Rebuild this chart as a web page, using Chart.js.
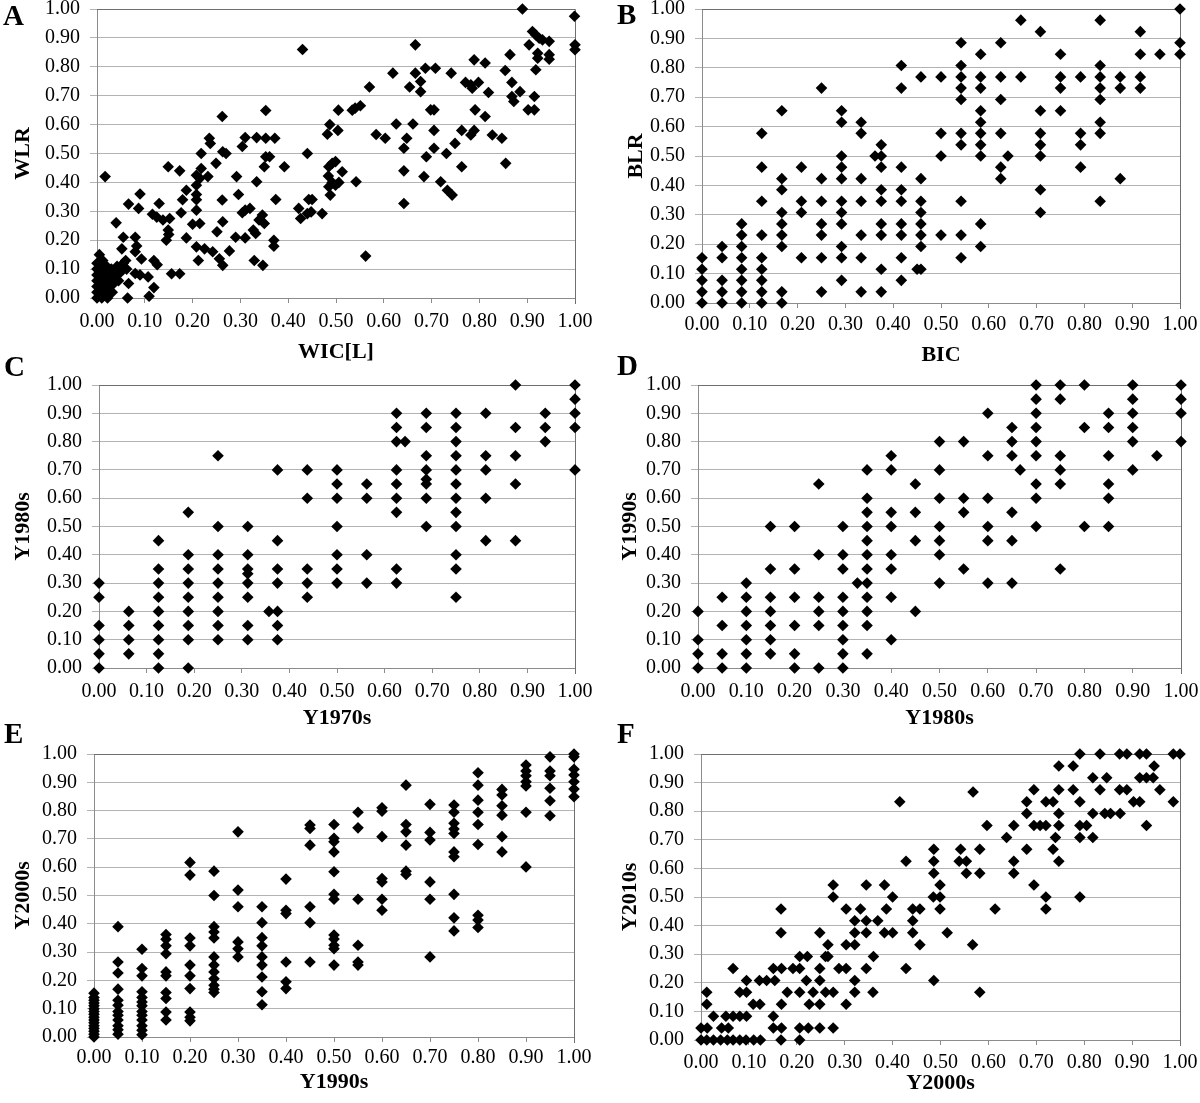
<!DOCTYPE html>
<html><head><meta charset="utf-8">
<script src="https://cdn.jsdelivr.net/npm/chart.js@4.4.1/dist/chart.umd.min.js"></script>
<style>
html,body{margin:0;padding:0;background:#fff;}
#wrap{position:relative;width:1200px;height:1103px;overflow:hidden;background:#fff;}
canvas{position:absolute;}
</style></head><body><div id="wrap"></div>
<script>
// ---------- DATA ----------
// Panel A: WIC[L] (x) vs WLR (y), pairs
const pointsA = [
[0,0],[0,0.02],[0,0.04],[0,0.06],[0,0.08],[0,0.10],[0,0.12],[0.005,0.15],[0.005,0.01],[0.008,0.05],
[0.01,0],[0.01,0.03],[0.01,0.07],[0.01,0.10],[0.012,0.13],[0.015,0.02],[0.018,0.05],[0.02,0.08],[0.02,0.11],
[0.022,0],[0.025,0.04],[0.028,0.07],[0.03,0.10],[0.032,0.02],[0.035,0.05],[0.04,0.08],[0.042,0.11],[0.045,0.06],
[0.05,0.09],[0.055,0.12],
[0.017,0.42],[0.43,0.86],[0.04,0.26],[0.066,0.325],[0.09,0.36],[0.087,0.31],[0.055,0.21],[0.08,0.21],[0.083,0.18],
[0.08,0.16],[0.093,0.135],[0.052,0.17],[0.06,0.13],[0.062,0.10],[0.066,0.05],[0.064,0],[0.08,0.085],[0.09,0.08],
[0.107,0.073],[0.109,0.006],[0.119,0.036],[0.119,0.13],[0.126,0.115],[0.116,0.29],[0.125,0.28],[0.13,0.327],
[0.138,0.27],[0.149,0.454],[0.152,0.275],[0.149,0.235],[0.145,0.20],[0.15,0.22],[0.156,0.084],[0.173,0.084],
[0.173,0.44],[0.176,0.295],[0.179,0.34],[0.187,0.373],[0.187,0.208],[0.20,0.255],[0.208,0.34],[0.208,0.304],
[0.208,0.358],[0.208,0.39],[0.208,0.425],[0.215,0.258],[0.218,0.448],[0.215,0.414],[0.208,0.177],[0.212,0.13],
[0.218,0.50],[0.225,0.17],[0.232,0.42],[0.235,0.553],[0.237,0.535],[0.242,0.16],[0.249,0.466],[0.251,0.229],
[0.256,0.136],[0.262,0.628],[0.263,0.506],[0.27,0.50],[0.262,0.339],[0.263,0.264],[0.263,0.113],[0.277,0.163],
[0.292,0.42],[0.296,0.358],[0.29,0.21],[0.304,0.524],[0.31,0.555],[0.304,0.295],[0.31,0.304],[0.31,0.208],
[0.32,0.31],[0.334,0.402],[0.334,0.555],[0.327,0.235],[0.332,0.223],[0.329,0.13],[0.339,0.27],[0.346,0.287],
[0.35,0.258],[0.347,0.113],[0.353,0.553],[0.353,0.649],[0.35,0.454],[0.353,0.489],[0.361,0.489],[0.372,0.553],
[0.37,0.20],[0.37,0.179],[0.374,0.341],[0.392,0.454],[0.422,0.31],[0.426,0.275],[0.44,0.50],[0.443,0.341],
[0.45,0.341],[0.44,0.292],[0.448,0.298],[0.471,0.292],[0.487,0.60],[0.482,0.567],[0.484,0.422],[0.485,0.454],
[0.485,0.385],[0.488,0.356],[0.504,0.58],[0.505,0.65],[0.534,0.65],[0.54,0.657],[0.551,0.665],[0.57,0.73],
[0.492,0.466],[0.499,0.472],[0.492,0.40],[0.506,0.40],[0.513,0.437],[0.499,0.39],[0.542,0.402],[0.562,0.145],
[0.584,0.566],[0.603,0.553],[0.619,0.778],[0.626,0.602],[0.648,0.553],[0.642,0.518],[0.642,0.44],[0.642,0.327],
[0.654,0.73],[0.661,0.602],[0.666,0.876],[0.666,0.778],[0.677,0.749],[0.677,0.714],[0.687,0.795],[0.708,0.795],
[0.698,0.651],[0.705,0.651],[0.705,0.58],[0.705,0.518],[0.689,0.489],[0.684,0.42],[0.719,0.402],[0.731,0.50],
[0.733,0.373],[0.743,0.356],[0.741,0.778],[0.749,0.535],[0.763,0.58],[0.763,0.454],[0.771,0.746],[0.782,0.738],
[0.785,0.726],[0.789,0.824],[0.798,0.746],[0.791,0.651],[0.782,0.564],[0.789,0.58],[0.812,0.813],[0.819,0.711],
[0.812,0.628],[0.827,0.564],[0.847,0.553],[0.855,0.466],[0.854,0.787],[0.864,0.842],[0.868,0.746],[0.868,0.697],
[0.872,0.68],[0.885,0.714],[0.89,1.00],[0.904,0.876],[0.911,0.922],[0.918,0.91],[0.925,0.899],[0.932,0.893],
[0.946,0.888],[0.922,0.847],[0.922,0.83],[0.918,0.79],[0.946,0.842],[0.946,0.826],[0.915,0.697],[0.902,0.651],
[0.915,0.651],[0.999,0.975],[1.0,0.876],[1.0,0.859]
];

// Panel B: BIC (x) columns with BLR (y) values
const columnsB = [
[0,[0,0.038,0.077,0.115,0.154]],
[0.042,[0,0.038,0.077,0.154,0.192]],
[0.083,[0,0.038,0.077,0.115,0.154,0.192,0.231,0.269]],
[0.125,[0,0.038,0.077,0.115,0.154,0.231,0.346,0.462,0.577]],
[0.167,[0,0.038,0.192,0.231,0.269,0.308,0.385,0.423,0.654]],
[0.208,[0.154,0.308,0.346,0.462]],
[0.25,[0.038,0.154,0.231,0.269,0.346,0.423,0.731]],
[0.292,[0.077,0.154,0.192,0.269,0.308,0.346,0.423,0.462,0.5,0.615,0.654]],
[0.333,[0.038,0.154,0.231,0.346,0.423,0.577,0.615]],
[0.362,[0.5]],
[0.375,[0.038,0.115,0.231,0.269,0.346,0.385,0.462,0.5,0.538]],
[0.417,[0.077,0.154,0.231,0.269,0.346,0.385,0.462,0.731,0.808]],
[0.45,[0.115]],
[0.458,[0.115,0.192,0.231,0.269,0.308,0.346,0.423,0.769]],
[0.5,[0.231,0.5,0.577,0.769]],
[0.542,[0.154,0.231,0.346,0.538,0.577,0.692,0.731,0.769,0.808,0.885]],
[0.583,[0.192,0.269,0.5,0.538,0.577,0.615,0.654,0.731,0.769,0.846]],
[0.625,[0.423,0.462,0.577,0.692,0.769,0.885]],
[0.64,[0.5]],
[0.667,[0.769,0.962]],
[0.708,[0.308,0.385,0.5,0.538,0.577,0.654,0.923]],
[0.75,[0.654,0.731,0.769,0.846]],
[0.792,[0.462,0.538,0.577,0.769]],
[0.833,[0.346,0.577,0.615,0.692,0.731,0.769,0.808,0.962]],
[0.875,[0.423,0.731,0.769]],
[0.917,[0.731,0.769,0.846,0.923]],
[0.958,[0.846]],
[1,[0.846,0.885,1]]
];

// Panel C: Y1970s (x) columns with Y1980s (y) values
const columnsC = [
[0,[0.3,0.25,0.15,0.1,0.05,0]],
[0.0625,[0.2,0.15,0.1,0.05]],
[0.125,[0.45,0.35,0.3,0.25,0.2,0.15,0.1,0.05,0]],
[0.1875,[0.55,0.4,0.35,0.3,0.25,0.2,0.15,0.1,0]],
[0.25,[0.75,0.5,0.4,0.35,0.3,0.25,0.2,0.15,0.1]],
[0.3125,[0.5,0.4,0.35,0.333,0.3,0.25,0.15,0.1]],
[0.357,[0.2]],
[0.375,[0.7,0.45,0.35,0.3,0.2,0.15,0.1]],
[0.4375,[0.7,0.6,0.35,0.3,0.25]],
[0.5,[0.7,0.65,0.6,0.5,0.4,0.35,0.3]],
[0.5625,[0.65,0.6,0.4,0.3]],
[0.625,[0.9,0.85,0.8,0.7,0.65,0.6,0.55,0.35,0.3]],
[0.643,[0.8]],
[0.6875,[0.9,0.85,0.75,0.7,0.667,0.65,0.6,0.5]],
[0.75,[0.9,0.85,0.8,0.75,0.7,0.65,0.6,0.55,0.5,0.4,0.35,0.25]],
[0.8125,[0.9,0.75,0.7,0.6,0.45]],
[0.875,[1,0.85,0.75,0.65,0.45]],
[0.9375,[0.9,0.85,0.8]],
[1,[1,0.95,0.9,0.85,0.7]]
];

// Panel D: Y1980s (x) columns with Y1990s (y) values
const columnsD = [
[0,[0.2,0.1,0.05,0]],
[0.05,[0.25,0.15,0.05,0]],
[0.1,[0.3,0.25,0.2,0.15,0.1,0.05,0]],
[0.15,[0.5,0.35,0.25,0.2,0.15,0.1,0.05]],
[0.2,[0.5,0.35,0.25,0.15,0.05,0]],
[0.25,[0.65,0.4,0.25,0.2,0.15,0]],
[0.3,[0.5,0.4,0.35,0.25,0.2,0.15,0.1,0.05,0]],
[0.33,[0.3]],
[0.35,[0.7,0.6,0.55,0.5,0.45,0.4,0.35,0.3,0.25,0.2,0.15,0.05]],
[0.4,[0.75,0.7,0.55,0.5,0.4,0.35,0.25,0.1]],
[0.45,[0.65,0.55,0.45,0.2]],
[0.5,[0.8,0.7,0.6,0.5,0.45,0.4,0.3]],
[0.55,[0.8,0.6,0.55,0.35]],
[0.6,[0.9,0.75,0.6,0.5,0.45,0.3]],
[0.65,[0.85,0.8,0.75,0.55,0.45,0.3]],
[0.667,[0.7]],
[0.7,[1,0.95,0.9,0.85,0.8,0.75,0.65,0.6,0.5]],
[0.75,[1,0.95,0.75,0.7,0.65,0.35]],
[0.8,[1,0.85,0.5]],
[0.85,[0.9,0.85,0.75,0.65,0.6,0.5]],
[0.9,[1,0.95,0.9,0.85,0.8,0.7]],
[0.95,[0.75]],
[1,[1,0.95,0.9,0.8]]
];

// Panel E: Y1990s (x) columns with Y2000s (y) values
const columnsE = [
[0,[0,0.01,0.02,0.03,0.04,0.05,0.06,0.07,0.08,0.09,0.10,0.11,0.12,0.13,0.14,0.155]],
[0.05,[0.39,0.265,0.226,0.169,0.13,0.112,0.09,0.077,0.06,0.04,0.026,0.01]],
[0.1,[0.31,0.242,0.216,0.16,0.14,0.124,0.11,0.09,0.077,0.06,0.04,0.024,0.008]],
[0.15,[0.362,0.345,0.322,0.294,0.23,0.216,0.157,0.136,0.088,0.06]],
[0.2,[0.617,0.572,0.35,0.322,0.254,0.216,0.171,0.088,0.07,0.057]],
[0.25,[0.586,0.5,0.39,0.371,0.35,0.283,0.254,0.23,0.206,0.183,0.169,0.157]],
[0.3,[0.725,0.519,0.46,0.336,0.312,0.283]],
[0.35,[0.46,0.404,0.351,0.322,0.283,0.254,0.212,0.16,0.114]],
[0.4,[0.558,0.448,0.436,0.265,0.195,0.171]],
[0.45,[0.749,0.737,0.678,0.46,0.404,0.265]],
[0.5,[0.751,0.702,0.69,0.654,0.584,0.504,0.487,0.36,0.346,0.324,0.312,0.254]],
[0.55,[0.794,0.739,0.487,0.324,0.265,0.254]],
[0.6,[0.81,0.798,0.708,0.56,0.548,0.487,0.448]],
[0.65,[0.89,0.751,0.725,0.678,0.586,0.574]],
[0.7,[0.822,0.723,0.696,0.548,0.487,0.283]],
[0.75,[0.82,0.794,0.755,0.735,0.719,0.654,0.637,0.504,0.421,0.375]],
[0.8,[0.934,0.89,0.837,0.794,0.751,0.68,0.43,0.413,0.387]],
[0.85,[0.875,0.855,0.817,0.784,0.708,0.654]],
[0.9,[0.961,0.94,0.923,0.902,0.887,0.794,0.601]],
[0.95,[0.99,0.94,0.923,0.879,0.835,0.782]],
[1,[1,0.99,0.946,0.926,0.902,0.876,0.849]]
];

// Panel F: Y2000s (x) vs Y2010s (y), pairs
const pointsF = [
[0,0],[0.012,0],[0.026,0],[0.041,0],[0.055,0],[0.067,0],[0.081,0],[0.094,0],[0.11,0],[0.124,0],[0.167,0],[0.206,0],
[0,0.042],[0.013,0.042],[0.043,0.042],[0.057,0.042],[0.151,0.042],[0.168,0.042],[0.206,0.042],[0.224,0.042],[0.248,0.042],[0.276,0.042],
[0.026,0.083],[0.052,0.083],[0.067,0.083],[0.081,0.083],[0.095,0.083],[0.151,0.083],
[0.012,0.125],[0.109,0.125],[0.123,0.125],[0.168,0.125],[0.226,0.125],[0.248,0.125],[0.303,0.125],
[0.012,0.167],[0.081,0.167],[0.095,0.167],[0.18,0.167],[0.206,0.167],[0.234,0.167],[0.26,0.167],[0.276,0.167],[0.321,0.167],[0.359,0.167],
[0.095,0.208],[0.122,0.208],[0.137,0.208],[0.154,0.208],[0.22,0.208],[0.248,0.208],[0.321,0.208],
[0.067,0.25],[0.151,0.25],[0.168,0.25],[0.192,0.25],[0.206,0.25],[0.248,0.25],[0.288,0.25],[0.303,0.25],[0.345,0.25],[0.428,0.25],
[0.206,0.292],[0.222,0.292],[0.26,0.292],[0.265,0.292],[0.36,0.292],
[0.265,0.333],[0.303,0.333],[0.321,0.333],[0.457,0.333],
[0.167,0.375],[0.248,0.375],[0.321,0.375],[0.345,0.375],[0.383,0.375],[0.4,0.375],[0.442,0.375],
[0.321,0.417],[0.345,0.417],[0.369,0.417],[0.442,0.417],
[0.167,0.458],[0.303,0.458],[0.333,0.458],[0.387,0.458],[0.442,0.458],[0.457,0.458],
[0.276,0.5],[0.4,0.5],[0.276,0.542],[0.345,0.542],[0.383,0.542],[0.428,0.625],[0.415,0.833],
[0.486,0.667],[0.486,0.625],[0.486,0.583],[0.499,0.542],[0.485,0.5],[0.499,0.5],[0.499,0.458],[0.514,0.375],[0.486,0.208],
[0.542,0.667],[0.539,0.625],[0.554,0.625],[0.554,0.583],[0.568,0.867],[0.567,0.333],[0.582,0.667],[0.582,0.583],[0.582,0.167],
[0.597,0.75],[0.614,0.458],[0.638,0.708],[0.653,0.75],[0.653,0.625],[0.653,0.583],
[0.68,0.833],[0.68,0.792],[0.68,0.667],[0.695,0.875],[0.695,0.75],[0.695,0.542],[0.708,0.75],
[0.72,0.833],[0.72,0.75],[0.72,0.5],[0.72,0.458],[0.735,0.833],[0.735,0.667],
[0.747,0.958],[0.747,0.875],[0.747,0.792],[0.747,0.75],[0.74,0.708],[0.747,0.625],
[0.777,0.958],[0.777,0.875],[0.791,1],[0.791,0.833],[0.791,0.75],[0.805,0.75],[0.791,0.708],[0.791,0.5],
[0.818,0.917],[0.818,0.792],[0.818,0.708],[0.833,1],[0.833,0.875],[0.847,0.917],[0.843,0.792],[0.855,0.792],
[0.874,1],[0.889,1],[0.874,0.875],[0.889,0.875],[0.875,0.792],[0.903,0.833],[0.916,0.833],
[0.916,1],[0.93,1],[0.916,0.917],[0.93,0.917],[0.944,0.917],[0.946,0.958],[0.93,0.75],[0.958,0.875],[0.986,0.833],[0.986,1],[1,1]
];

const panelLetters = ['A','B','C','D','E','F'];
const xTitles = ['WIC[L]','BIC','Y1970s','Y1980s','Y1990s','Y2000s'];
const yTitles = ['WLR','BLR','Y1980s','Y1990s','Y2000s','Y2010s'];

// ---------- helpers ----------
const fromPairs = arr => arr.map(p => ({x:p[0], y:p[1]}));
const fromColumns = cols => cols.flatMap(c => c[1].map(v => ({x:c[0], y:v})));
const datasets = [fromPairs(pointsA), fromColumns(columnsB), fromColumns(columnsC),
                  fromColumns(columnsD), fromColumns(columnsE), fromPairs(pointsF)];

const SERIF = '"Liberation Serif","Times New Roman",serif';

// layout: canvas box [left, top, w, h], plot area [left, top, right, bottom] (absolute px)
const layoutInfo = [
 {box:[0,0,600,370],   plot:[97,9,575,298],    yTitleX:23, xTitleY:352,  xPad:7, letter:[3,25]},
 {box:[600,0,600,370], plot:[702,9,1180,303],  yTitleX:36, xTitleY:355,  xPad:5, letter:[617,24]},
 {box:[0,338,600,395], plot:[99,385,575,668],  yTitleX:23, xTitleY:718,  xPad:7, letter:[4,376]},
 {box:[600,338,600,395],plot:[698,385,1181,668],yTitleX:30, xTitleY:718, xPad:7, letter:[617,375]},
 {box:[0,705,600,398], plot:[94,754,574,1037], yTitleX:23, xTitleY:1082, xPad:4, letter:[4,743]},
 {box:[600,705,600,398],plot:[701,754,1180,1040],yTitleX:30, xTitleY:1083, xPad:6, letter:[617,743]}
];

const decor = {
  id:'decor',
  beforeDatasetsDraw(chart, args, o){
    const {ctx, chartArea:a} = chart;
    ctx.save();
    ctx.strokeStyle = '#6f6f6f'; ctx.lineWidth = 1;
    ctx.beginPath();
    const t = Math.round(a.top)+0.5, r = Math.round(a.right)+0.5;
    ctx.moveTo(a.left, t); ctx.lineTo(r, t);
    ctx.moveTo(r, t); ctx.lineTo(r, a.bottom + 6);
    ctx.stroke();
    ctx.restore();
  },
  afterDraw(chart, args, o){
    const ctx = chart.ctx;
    ctx.save();
    ctx.font = 'bold 29px ' + SERIF;
    ctx.fillStyle = '#000';
    ctx.textBaseline = 'alphabetic';
    ctx.fillText(o.letter, o.x, o.y);
    ctx.restore();
  }
};

const wrap = document.getElementById('wrap');
layoutInfo.forEach((L, i) => {
  const [bl, bt, bw, bh] = L.box;
  const [pl, pt, pr, pb] = L.plot;
  const cv = document.createElement('canvas');
  cv.width = bw; cv.height = bh;
  cv.style.left = bl + 'px'; cv.style.top = bt + 'px';
  cv.style.width = bw + 'px'; cv.style.height = bh + 'px';
  wrap.appendChild(cv);
  const yW = pl - bl;
  const xH = (bt + bh) - pb;
  const titleFont = {family:SERIF, size:22, weight:'bold'};
  const tickFont = {family:SERIF, size:20};
  new Chart(cv, {
    type:'scatter',
    data:{datasets:[{
      data: datasets[i],
      pointStyle:'rectRot', pointRadius:5.8, pointHoverRadius:5.8,
      backgroundColor:'#000', borderColor:'#000', borderWidth:0,
      clip:false
    }]},
    plugins:[decor],
    options:{
      responsive:false, animation:false, events:[],
      devicePixelRatio:1,
      layout:{autoPadding:false, padding:{left:0, top:pt-bt, right:(bl+bw)-pr, bottom:0}},
      plugins:{legend:{display:false}, tooltip:{enabled:false},
        decor:{letter:panelLetters[i], x:L.letter[0]-bl, y:L.letter[1]-bt}},
      scales:{
        x:{type:'linear', position:'bottom', min:0, max:1,
          ticks:{stepSize:0.1, autoSkip:false, maxRotation:0, padding:L.xPad, color:'#000', font:tickFont,
                 callback:v => Number(v).toFixed(2)},
          grid:{drawOnChartArea:false, drawTicks:true, tickLength:5, color:'#8c8c8c'},
          border:{display:true, color:'#8c8c8c'},
          title:{display:true, text:xTitles[i], color:'#000', font:titleFont,
                 padding:{top:0, bottom:(bt+bh) - L.xTitleY - 13.2}},
          afterFit:s => { s.height = xH; s.paddingLeft = 0; s.paddingRight = 0; }
        },
        y:{type:'linear', position:'left', min:0, max:1,
          ticks:{stepSize:0.1, padding:10, color:'#000', font:tickFont,
                 callback:v => Number(v).toFixed(2)},
          grid:{color:'#b3b3b3', drawTicks:true, tickLength:7},
          border:{display:true, color:'#8c8c8c'},
          title:{display:true, text:yTitles[i], color:'#000', font:titleFont,
                 padding:{top:L.yTitleX - 13.2, bottom:0}},
          afterFit:s => { s.width = yW; s.paddingTop = 0; s.paddingBottom = 0; }
        }
      }
    }
  });
});
</script>
</body></html>
